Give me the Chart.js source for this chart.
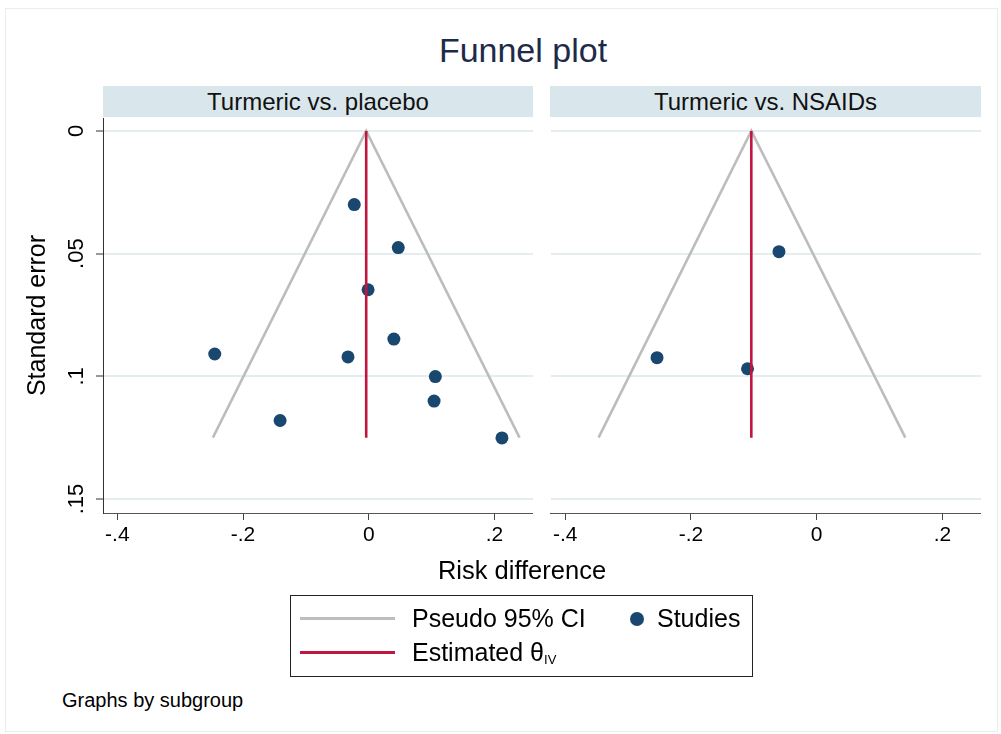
<!DOCTYPE html>
<html lang="en">
<head>
    <meta charset="UTF-8">
    <title>Funnel plot</title>
    <script src="https://cdn.jsdelivr.net/npm/chart.js"></script>
    <style>
        body {
            margin: 0;
            width: 1001px;
            height: 734px;
            background: #ffffff;
            font-family: 'Liberation Sans', Arial, sans-serif;
            color: #000;
            position: relative;
            overflow: hidden;
        }

        .frame {
            position: absolute;
            left: 5px;
            top: 8px;
            width: 991px;
            height: 722px;
            border: 1px solid #ececec;
        }

        .title {
            position: absolute;
            left: 323px;
            top: 30px;
            width: 400px;
            line-height: 40px;
            font-size: 34px;
            text-align: center;
            color: #1e2a4a;
        }

        .strip {
            position: absolute;
            top: 86px;
            height: 31px;
            line-height: 31px;
            background: #d9e6ec;
            font-size: 24px;
            text-align: center;
            color: #111;
        }

        canvas {
            position: absolute;
            top: 118px;
        }

        .xtitle {
            position: absolute;
            left: 322px;
            top: 555px;
            width: 400px;
            line-height: 30px;
            font-size: 25.5px;
            text-align: center;
        }

        .legend {
            position: absolute;
            left: 290px;
            top: 595px;
            width: 463px;
            height: 82px;
            box-sizing: border-box;
            border: 1.5px solid #222;
        }

        .legend .line {
            position: absolute;
            left: 9px;
            width: 95px;
            height: 3px;
        }

        .legend .dot {
            position: absolute;
            width: 14px;
            height: 14px;
            border-radius: 50%;
            background: #1a476f;
        }

        .legend .txt {
            position: absolute;
            line-height: 30px;
            font-size: 25px;
            white-space: nowrap;
        }

        .legend sub {
            font-size: 13px;
            vertical-align: -3px;
        }

        .note {
            position: absolute;
            left: 62px;
            top: 688px;
            line-height: 24px;
            font-size: 20px;
        }
    </style>
</head>
<body>
    <div class="frame"></div>
    <div class="title">Funnel plot</div>
    <div class="strip" id="strip0" style="left:103px; width:430px;"></div>
    <div class="strip" id="strip1" style="left:550px; width:431px;"></div>

    <canvas id="chartPlacebo" width="533" height="440" style="left:0px;"></canvas>
    <canvas id="chartNsaid" width="431" height="440" style="left:550px;"></canvas>

    <div class="xtitle">Risk difference</div>

    <div class="legend">
        <div class="line" style="top:21px; background:#bdbdbd;"></div>
        <div class="txt" style="left:121px; top:7px;">Pseudo 95% CI</div>
        <div class="dot" style="left:339px; top:16px;"></div>
        <div class="txt" style="left:366px; top:7px;">Studies</div>
        <div class="line" style="top:55px; background:#c0163f;"></div>
        <div class="txt" style="left:121px; top:41px;">Estimated θ<sub>IV</sub></div>
    </div>

    <div class="note">Graphs by subgroup</div>

    <script>
        const panelTitles = ['Turmeric vs. placebo', 'Turmeric vs. NSAIDs'];
        const xTicks = [-0.4, -0.2, 0, 0.2];
        const yTicks = [0, 0.05, 0.1, 0.15];

        // Turmeric vs. placebo
        const placeboRD = [-0.023, 0.047, -0.001, 0.040, -0.245, -0.033, 0.106, 0.104, -0.141, 0.212];
        const placeboSE = [0.030, 0.0475, 0.0647, 0.0848, 0.0909, 0.0921, 0.1001, 0.1101, 0.118, 0.1251];
        const placeboTheta = -0.004;
        const placeboCI = [-0.248, 0.240];

        // Turmeric vs. NSAIDs
        const nsaidRD = [-0.060, -0.254, -0.110];
        const nsaidSE = [0.0492, 0.0924, 0.0969];
        const nsaidTheta = -0.104;
        const nsaidCI = [-0.347, 0.141];

        const funnelSE = 0.125;

        const FONT = "'Liberation Sans', Arial, sans-serif";

        document.getElementById('strip0').textContent = panelTitles[0];
        document.getElementById('strip1').textContent = panelTitles[1];

        function fmtTick(v) {
            if (Math.abs(v) < 1e-9) return '0';
            const s = String(Math.round(Math.abs(v) * 100) / 100).replace(/^0/, '');
            return (v < 0 ? '-' : '') + s;
        }

        // Stata-style y labels, turned to read bottom to top
        const yTickLabels = {
            id: 'yTickLabels',
            afterDraw(chart) {
                const scale = chart.scales.y;
                const ctx = chart.ctx;
                ctx.save();
                ctx.font = '22px ' + FONT;
                ctx.fillStyle = '#000';
                ctx.textAlign = 'center';
                ctx.textBaseline = 'middle';
                yTicks.forEach(v => {
                    ctx.save();
                    ctx.translate(scale.right - 26, scale.getPixelForValue(v));
                    ctx.rotate(-Math.PI / 2);
                    ctx.fillText(fmtTick(v), 0, 0);
                    ctx.restore();
                });
                ctx.restore();
            }
        };

        function makeDatasets(rd, se, theta, ci) {
            return [
                {
                    label: 'Estimated',
                    data: [{ x: theta, y: 0 }, { x: theta, y: funnelSE }],
                    showLine: true,
                    borderColor: '#c0163f',
                    borderWidth: 2.6,
                    pointRadius: 0
                },
                {
                    label: 'Studies',
                    data: rd.map((v, i) => ({ x: v, y: se[i] })),
                    showLine: false,
                    backgroundColor: '#1a476f',
                    borderColor: '#1a476f',
                    pointRadius: 6.5,
                    pointBorderWidth: 0
                },
                {
                    label: 'Pseudo 95% CI',
                    data: [{ x: ci[0], y: funnelSE }, { x: theta, y: 0 }, { x: ci[1], y: funnelSE }],
                    showLine: true,
                    borderColor: '#bdbdbd',
                    borderWidth: 2.6,
                    pointRadius: 0
                }
            ];
        }

        function makeChart(id, datasets, showY) {
            return new Chart(document.getElementById(id), {
                type: 'scatter',
                data: { datasets: datasets },
                options: {
                    responsive: false,
                    animation: false,
                    layout: { padding: 0, autoPadding: false },
                    plugins: {
                        legend: { display: false },
                        tooltip: { enabled: false }
                    },
                    elements: { line: { tension: 0 } },
                    scales: {
                        x: {
                            type: 'linear',
                            min: -0.4228,
                            max: 0.2614,
                            afterBuildTicks: (scale) => { scale.ticks = xTicks.map(v => ({ value: v })); },
                            afterFit: (scale) => { scale.height = 45; },
                            ticks: {
                                callback: (v) => fmtTick(v),
                                font: { size: 21, family: FONT },
                                color: '#000',
                                padding: 3,
                                maxRotation: 0
                            },
                            grid: {
                                drawOnChartArea: false,
                                drawTicks: true,
                                tickLength: 7,
                                tickColor: '#444',
                                tickWidth: 1
                            },
                            border: { display: true, color: '#555', width: 1 }
                        },
                        y: {
                            type: 'linear',
                            reverse: true,
                            min: -0.0053,
                            max: 0.1557,
                            afterBuildTicks: (scale) => { scale.ticks = yTicks.map(v => ({ value: v })); },
                            afterFit: (scale) => { scale.width = showY ? 103 : 0; },
                            ticks: { display: false },
                            grid: {
                                color: '#e4eef1',
                                lineWidth: 2,
                                drawTicks: showY,
                                tickLength: 7,
                                tickColor: '#333',
                                tickWidth: 1
                            },
                            border: { display: showY, color: '#333', width: 1 },
                            title: {
                                display: showY,
                                text: 'Standard error',
                                color: '#000',
                                font: { size: 25, family: FONT },
                                padding: { top: 23, bottom: 0 }
                            }
                        }
                    }
                },
                plugins: showY ? [yTickLabels] : []
            });
        }

        makeChart('chartPlacebo', makeDatasets(placeboRD, placeboSE, placeboTheta, placeboCI), true);
        makeChart('chartNsaid', makeDatasets(nsaidRD, nsaidSE, nsaidTheta, nsaidCI), false);
    </script>
</body>
</html>
